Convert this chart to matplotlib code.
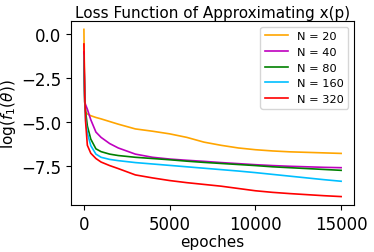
import matplotlib
matplotlib.use("Agg")
import matplotlib.pyplot as plt

# -------------------------
# Data
# -------------------------
epochs = [0, 50, 100, 200, 400, 700, 1000, 1500, 2000, 3000, 4000, 5000,
          6000, 7000, 8000, 9000, 10000, 11000, 12000, 13000, 14000, 15000]

loss_n20 = [0.28, -3.9, -4.42, -4.52, -4.62, -4.72, -4.8, -4.95, -5.1, -5.37, -5.5, -5.65,
            -5.85, -6.12, -6.3, -6.45, -6.55, -6.62, -6.67, -6.7, -6.73, -6.76]
loss_n40 = [-1.0, -3.85, -4.0, -4.25, -4.85, -5.55, -5.85, -6.2, -6.45, -6.8, -6.98, -7.08,
            -7.15, -7.21, -7.28, -7.34, -7.4, -7.45, -7.49, -7.52, -7.55, -7.57]
loss_n80 = [-1.5, -3.85, -4.4, -5.2, -5.95, -6.5, -6.66, -6.8, -6.88, -6.98, -7.05, -7.12,
            -7.2, -7.27, -7.33, -7.39, -7.45, -7.52, -7.57, -7.62, -7.67, -7.72]
loss_n160 = [-1.2, -3.85, -4.9, -5.6, -6.32, -6.8, -6.98, -7.1, -7.17, -7.28, -7.36, -7.44,
             -7.52, -7.6, -7.68, -7.76, -7.85, -7.95, -8.05, -8.15, -8.25, -8.34]
loss_n320 = [-0.55, -3.5, -5.0, -6.3, -6.75, -7.05, -7.25, -7.45, -7.62, -7.98, -8.15, -8.3,
             -8.42, -8.52, -8.62, -8.75, -8.88, -8.97, -9.04, -9.1, -9.16, -9.21]

labels = ["N = 20", "N = 40", "N = 80", "N = 160", "N = 320"]
colors = ["orange", "m", "g", "deepskyblue", "r"]

# -------------------------
# Plot
# -------------------------
fig = plt.figure(figsize=(3.74, 2.53), dpi=100)
ax = fig.add_axes([0.19, 0.186, 0.7565, 0.727])

for y, lab, c in zip([loss_n20, loss_n40, loss_n80, loss_n160, loss_n320], labels, colors):
    ax.plot(epochs, y, color=c, label=lab, linewidth=1.2)

ax.set_title("Loss Function of Approximating x(p)", fontsize=11, pad=3)
ax.set_xlabel("epoches", fontsize=11, labelpad=1)
ax.set_ylabel(r"$\log(f_1(\theta))$", fontsize=11, labelpad=2)
ax.tick_params(labelsize=12)
ax.set_yticks([0.0, -2.5, -5.0, -7.5])
ax.legend(loc="upper right", fontsize=8.2)

fig.savefig("out.png", dpi=100)
